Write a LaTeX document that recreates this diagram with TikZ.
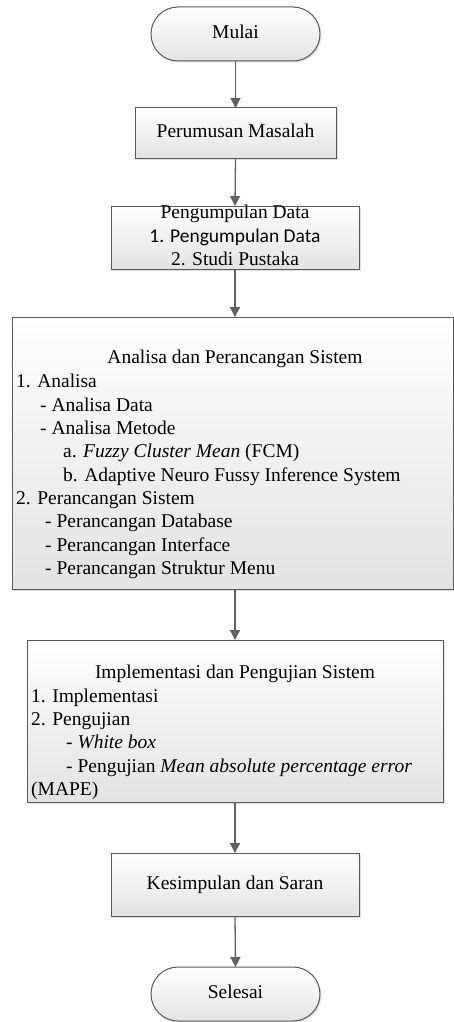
\documentclass[tikz,border=0pt]{standalone}
\usepackage{fontspec}
\setmainfont{Liberation Serif}
\newfontfamily\calfont{Carlito}
\usetikzlibrary{shadows,arrows.meta}
\begin{document}
\begin{tikzpicture}[x=1pt,y=-1pt,
  box/.style={draw=black!65, line width=1pt, top color=white, bottom color=black!11,
    drop shadow={opacity=0.25, shadow xshift=1.5pt, shadow yshift=-1.5pt},
    inner sep=0pt, outer sep=0pt},
  term/.style={box, rounded corners=27pt},
  arr/.style={draw=black!62, line width=1.3pt, -{Triangle[length=10pt,width=10pt]}},
  txt/.style={font=\fontsize{19.5}{23}\selectfont, inner sep=0pt, text height=0.68em, text depth=0.2em, yshift=-2.5pt},
  ltxt/.style={txt, anchor=west}]
\useasboundingbox (0,0) rectangle (454,1022);
\node[term, minimum width=169pt, minimum height=54pt] (mulai) at (235.5,34) {};
\node[box, minimum width=201pt, minimum height=50pt] (perumusan) at (235.5,133) {};
\node[box, minimum width=248pt, minimum height=63pt] (pengumpulan) at (235,237.5) {};
\node[box, minimum width=441pt, minimum height=272pt] (analisa) at (232.5,453) {};
\node[box, minimum width=416pt, minimum height=162pt] (impl) at (235,721) {};
\node[box, minimum width=248pt, minimum height=63pt] (kesimpulan) at (235,884.5) {};
\node[term, minimum width=169pt, minimum height=54pt] (selesai) at (235.5,994) {};

\node[txt] (t1) at (mulai.center) {Mulai};
\node[txt] (t2) at (perumusan.center) {Perumusan Masalah};
\node[txt] (t3) at (235,214) {Pengumpulan Data};
\node[txt,font=\calfont\fontsize{19.5}{23}\selectfont] (t4) at (235,238) {1. Pengumpulan Data};
\node[txt] (t5) at (235,261) {2. Studi Pustaka};

\node[txt] (a0) at (235,359) {Analisa dan Perancangan Sistem};
\node[ltxt] (a1) at (16,383) {1. Analisa};
\node[ltxt] (a2) at (40,407) {- Analisa Data};
\node[ltxt] (a3) at (40,430) {- Analisa Metode};
\node[ltxt] (a4) at (63,453) {a. \textit{Fuzzy Cluster Mean} (FCM)};
\node[ltxt] (a5) at (63,477) {b. Adaptive Neuro Fussy Inference System};
\node[ltxt] (a6) at (16,500) {2. Perancangan Sistem};
\node[ltxt] (a7) at (45,523) {- Perancangan Database};
\node[ltxt] (a8) at (45,547) {- Perancangan Interface};
\node[ltxt] (a9) at (45,570) {- Perancangan Struktur Menu};

\node[txt] (i0) at (235,674) {Implementasi dan Pengujian Sistem};
\node[ltxt] (i1) at (31,698) {1. Implementasi};
\node[ltxt] (i2) at (31,721) {2. Pengujian};
\node[ltxt] (i3) at (66,744) {- \textit{White box}};
\node[ltxt] (i4) at (66,768) {- Pengujian \textit{Mean absolute percentage error}};
\node[ltxt] (i5) at (31,791) {(MAPE)};

\node[txt] (k) at (kesimpulan.center) {Kesimpulan dan Saran};
\node[txt] (s) at (selesai.center) {Selesai};

\draw[arr] (mulai.south) -- (perumusan.north);
\draw[arr] (perumusan.south) -- (pengumpulan.north);
\draw[arr] (pengumpulan.south) -- (analisa.north -| pengumpulan.south);
\draw[arr] (analisa.south -| impl.north) -- (impl.north);
\draw[arr] (impl.south) -- (kesimpulan.north);
\draw[arr] (kesimpulan.south) -- (selesai.north);
\end{tikzpicture}
\end{document}
